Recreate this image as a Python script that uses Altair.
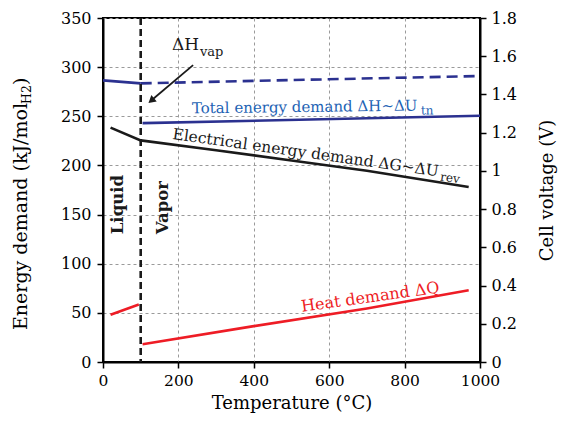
import altair as alt
import pandas as pd

FONT = "DejaVu Serif"
NAVY = "#2B3190"
BLUE_TXT = "#1E63B4"
RED = "#EE1C25"
BLACK = "#1a1a1a"

# ---- data (temperature in °C, energy demand in kJ/mol H2) ----
t_tot_liq = [0, 100]
v_tot_liq = [286.5, 283.5]
t_tot_hhv = [100, 1000]
v_tot_hhv = [283.5, 291.0]
t_tot_vap = [105, 1000]
v_tot_vap = [243.0, 250.5]
t_elec = [20, 100, 300, 500, 700, 970]
v_elec = [238.5, 225.5, 215.5, 205.0, 194.5, 178.0]
t_heat_liq = [20, 95]
v_heat_liq = [48.0, 58.5]
t_heat_vap = [105, 400, 700, 970]
v_heat_vap = [18.0, 36.5, 54.5, 73.0]
t_phase = [100]

x_ticks = [0, 200, 400, 600, 800, 1000]
y_ticks = [0, 50, 100, 150, 200, 250, 300, 350]
volt_ticks = [0, 0.2, 0.4, 0.6, 0.8, 1.0, 1.2, 1.4, 1.6, 1.8]
volt_range = [0, 1.8]

# annotation texts
lbl_total = "Total energy demand ΔH~ΔU"
lbl_total_sub = "tn"
lbl_elec = "Electrical energy demand ΔG~ΔU"
lbl_elec_sub = "rev"
lbl_heat = "Heat demand ΔQ"
lbl_hvap = "ΔH"
lbl_hvap_sub = "vap"
lbl_liquid = "Liquid"
lbl_vapor = "Vapor"
ytitle_main = "Energy demand (kJ/mol"
ytitle_sub = "H2"
ytitle_end = ")"

# ---- encodings ----
grid_kw = dict(grid=True, gridDash=[3, 3], gridColor="#9a9a9a", gridWidth=1)
axis_kw = dict(domainColor="black", domainWidth=2, tickColor="black", tickWidth=1.5,
               tickSize=6, labelFont=FONT, labelColor="black",
               titleFont=FONT, titleFontSize=18, titleFontWeight="normal",
               titleColor="black")

xaxis = alt.Axis(values=x_ticks, format="d", title="Temperature (°C)", labelPadding=5,
                 labelFontSize=15.5, titlePadding=6, labelFlush=False,
                 **grid_kw, **axis_kw)
yaxis = alt.Axis(values=y_ticks, title=None, labelPadding=6, labelFontSize=16,
                 **grid_kw, **axis_kw)

X = alt.X("t:Q", scale=alt.Scale(domain=[0, 1000], nice=False), axis=xaxis)
Y = alt.Y("v:Q", scale=alt.Scale(domain=[0, 350], nice=False), axis=yaxis)


def df(t, v, seg=0):
    return pd.DataFrame({"t": t, "v": v, "seg": seg})


def line(d, color, dash=None):
    kw = dict(color=color, strokeWidth=2.6)
    if dash:
        kw["strokeDash"] = dash
    return alt.Chart(d).mark_line(**kw).encode(x=X, y=Y, order="t:Q")


layers = [
    line(df(t_tot_liq, v_tot_liq), NAVY),
    line(df(t_tot_hhv, v_tot_hhv), NAVY, [11, 6]),
    line(df(t_tot_vap, v_tot_vap), NAVY),
    line(df(t_elec, v_elec), BLACK),
    line(df(t_heat_liq, v_heat_liq), RED),
    line(df(t_heat_vap, v_heat_vap), RED),
    alt.Chart(pd.DataFrame({"t": t_phase})).mark_rule(
        color=BLACK, strokeWidth=2.6, strokeDash=[7, 4]).encode(x=X),
]

# arrow for ΔH_vap
arrow_df = pd.DataFrame({"t": [239.0], "v": [302.0], "t2": [128.0], "v2": [266.0]})
layers.append(alt.Chart(arrow_df).mark_rule(color=BLACK, strokeWidth=1.8).encode(
    x=X, y=Y, x2="t2:Q", y2="v2:Q"))
layers.append(alt.Chart(pd.DataFrame({"t": [128.0], "v": [266.0]})).mark_point(
    shape="triangle-up", filled=True, color=BLACK, opacity=1, size=70, angle=230
).encode(x=X, y=Y))


def text(t, v, s, color=BLACK, size=15.5, angle=0, dx=0, dy=0, weight="normal",
         align="left", baseline="alphabetic"):
    kw = dict(font=FONT, fontSize=size, color=color, align=align, baseline=baseline,
              fontWeight=weight)
    if angle:
        kw["angle"] = angle
    if dx:
        kw["dx"] = dx
    if dy:
        kw["dy"] = dy
    d = pd.DataFrame({"t": [t], "v": [v], "s": [s]})
    return alt.Chart(d).mark_text(**kw).encode(x=X, y=Y, text="s:N")


layers += [
    text(183, 317, lbl_hvap, size=17),
    text(257, 311, lbl_hvap_sub, size=13),
    text(236, 253, lbl_total, color=BLUE_TXT, angle=359.3, size=15),
    text(236, 253, lbl_total_sub, color=BLUE_TXT, angle=359.3, size=12, dx=229, dy=4),
    text(183, 227, lbl_elec, angle=8),
    text(183, 227, lbl_elec_sub, angle=8, size=12, dx=271, dy=4),
    text(528, 51, lbl_heat, color=RED, angle=352, size=16),
    text(40, 130, lbl_liquid, angle=270, weight="bold", size=16.5, baseline="middle"),
    text(159, 130, lbl_vapor, angle=270, weight="bold", size=16.5, baseline="middle"),
]


# manual left axis title with subscript
def ytitle(s, size, dx=0, dy=0):
    kw = dict(font=FONT, fontSize=size, color="black", align="left",
              baseline="alphabetic", angle=270)
    if dx:
        kw["dx"] = dx
    if dy:
        kw["dy"] = dy
    d = pd.DataFrame({"s": [s]})
    return alt.Chart(d).mark_text(**kw).encode(
        x=alt.value(-76), y=alt.value(312), text="s:N")


layers += [
    ytitle(ytitle_main, 19),
    ytitle(ytitle_sub, 12.5, dx=226, dy=4),
    ytitle(ytitle_end, 19, dx=245),
]

left = alt.layer(*layers)

right_axis = alt.Axis(orient="right", values=volt_ticks, format="~g", grid=False,
                      title="Cell voltage (V)", titleAngle=270, titleBaseline="top",
                      labelPadding=5, labelFontSize=16, titlePadding=22, **axis_kw)
right = alt.Chart(pd.DataFrame({"t": [0, 0], "v": volt_range})).mark_point(
    opacity=0).encode(
    x=X,
    y=alt.Y("v:Q", scale=alt.Scale(domain=volt_range, nice=False), axis=right_axis))

chart = alt.layer(left, right).resolve_scale(y="independent").properties(
    width=377, height=344,
    padding={"left": 3, "top": 2, "right": 2, "bottom": 2},
).configure_view(stroke="black", strokeWidth=2)

chart.save("out.html", embed_options={"renderer": "svg", "actions": False})
